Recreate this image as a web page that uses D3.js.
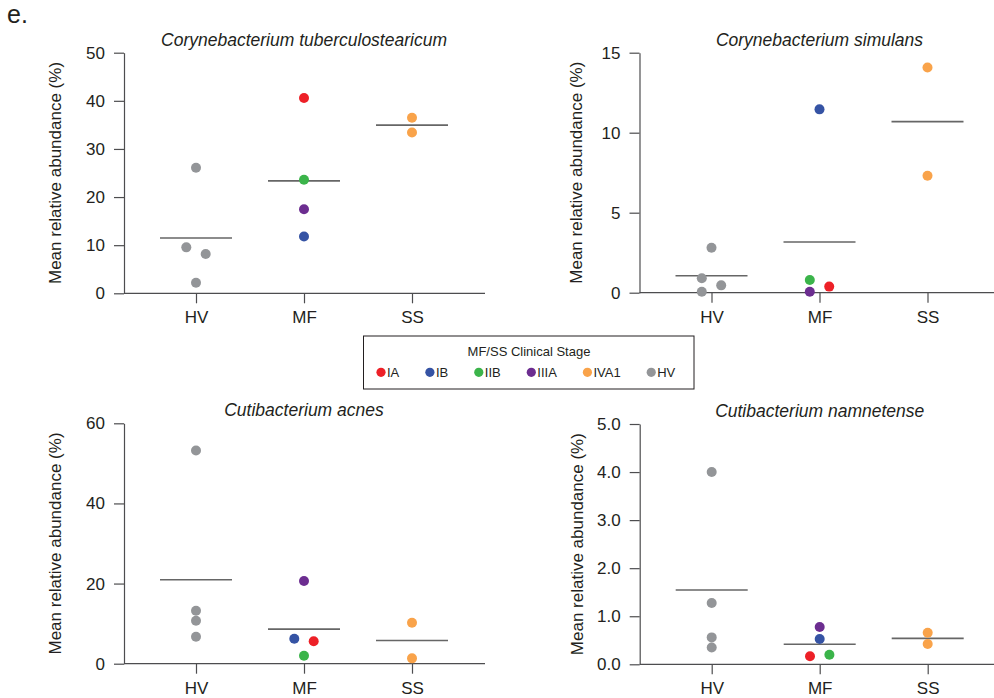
<!DOCTYPE html>
<html lang="en">
<head>
<meta charset="UTF-8">
<title>Mean relative abundance by clinical stage</title>
<style>
    body { margin: 0; background: #fff; }
    svg { display: block; font-family: "Liberation Sans", Arial, sans-serif; }
    .axis path, .axis line { stroke: #4d4d4f; stroke-width: 1.2px; }
    .axis text { fill: #231f20; font-size: 17px; }
    .title { font-size: 17.5px; font-style: italic; fill: #231f20; }
    .ylabel { font-size: 17px; fill: #231f20; }
    .mean { stroke: #666; stroke-width: 1.6px; }
</style>
</head>
<body>
<svg></svg>
<script src="https://d3js.org/d3.v7.min.js"></script>
<script>
// groups on the x axis and the legend stages
const categories = ["HV", "MF", "SS"];
const stageNames = ["IA", "IB", "IIB", "IIIA", "IVA1", "HV"];
const stageColors = ["#ed2027", "#3553a4", "#3bb44a", "#6c2d90", "#f9a34a", "#939598"];

// panel titles and y ranges
const titles = ["Corynebacterium tuberculostearicum", "Corynebacterium simulans",
                "Cutibacterium acnes", "Cutibacterium namnetense"];
const yMaxes = [50, 15, 60, 5];
const tickSteps = [10, 5, 20, 1];
const tickFormats = ["d", "d", "d", ".1f"];

// values (mean relative abundance, %)
const ctValues = [26.1, 9.55, 8.17, 2.2, 40.6, 23.6, 17.45, 11.8, 36.5, 33.4];
const ctStages = ["HV", "HV", "HV", "HV", "IA", "IIB", "IIIA", "IB", "IVA1", "IVA1"];
const ctSlots  = [0, -1, 1, 0, 0, 0, 0, 0, 0, 0];

const csValues = [2.81, 0.9, 0.46, 0.06, 11.46, 0.79, 0.38, 0.06, 14.08, 7.31];
const csStages = ["HV", "HV", "HV", "HV", "IB", "IIB", "IA", "IIIA", "IVA1", "IVA1"];
const csSlots  = [0, -1, 1, -1, 0, -1, 1, -1, 0, 0];

const caValues = [53.2, 13.2, 10.7, 6.74, 20.65, 6.24, 5.59, 2.0, 10.24, 1.33];
const caStages = ["HV", "HV", "HV", "HV", "IIIA", "IB", "IA", "IIB", "IVA1", "IVA1"];
const caSlots  = [0, 0, 0, 0, 0, -1, 1, 0, 0, 0];

const cnValues = [4.0, 1.275, 0.56, 0.35, 0.776, 0.526, 0.166, 0.2, 0.657, 0.422];
const cnStages = ["HV", "HV", "HV", "HV", "IIIA", "IB", "IA", "IIB", "IVA1", "IVA1"];
const cnSlots  = [0, 0, 0, 0, 0, 0, -1, 1, 0, 0];

const allValues = [ctValues, csValues, caValues, cnValues];
const allStages = [ctStages, csStages, caStages, cnStages];
const allSlots = [ctSlots, csSlots, caSlots, cnSlots];

const width = 994, height = 698;
const svg = d3.select("svg").attr("width", width).attr("height", height);

// where each panel sits
const frames = [
    { ax: 124,   bottom: 293.3, top: 52.7,  lab: 69, end: 485 },
    { ax: 639.5, bottom: 292.7, top: 52.7,  lab: 63, end: 1000 },
    { ax: 124,   bottom: 663.7, top: 423.3, lab: 69, end: 485 },
    { ax: 639.7, bottom: 664.3, top: 424,   lab: 63, end: 1000 }
];

const color = d3.scaleOrdinal().domain(stageNames).range(stageColors);
const groupOf = s => s === "HV" ? "HV" : (s === "IVA1" ? "SS" : "MF");
const dodge = 9.7, r = 5;

svg.append("text")
    .attr("x", 7).attr("y", 23)
    .style("font-size", "25px").style("fill", "#231f20")
    .text("e.");

frames.forEach((f, i) => {
    const g = svg.append("g");
    const x = d3.scalePoint().domain(categories).range([f.ax + 72, f.ax + 288]);
    const y = d3.scaleLinear().domain([0, yMaxes[i]]).range([f.bottom, f.top]);

    const pts = allValues[i].map((v, j) => ({
        value: v, stage: allStages[i][j], group: groupOf(allStages[i][j]), slot: allSlots[i][j]
    }));

    // x axis: long baseline plus category ticks
    g.append("line")
        .attr("x1", f.ax).attr("x2", f.end)
        .attr("y1", f.bottom).attr("y2", f.bottom)
        .attr("stroke", "#4d4d4f").attr("stroke-width", 1.2);
    const xa = g.append("g").attr("class", "axis")
        .attr("transform", `translate(0,${f.bottom})`)
        .call(d3.axisBottom(x).tickSize(10).tickSizeOuter(0).tickPadding(8));
    xa.select(".domain").remove();

    // y axis
    g.append("g").attr("class", "axis")
        .attr("transform", `translate(${f.ax},0)`)
        .call(d3.axisLeft(y)
            .tickValues(d3.range(0, yMaxes[i] + tickSteps[i] / 2, tickSteps[i]))
            .tickFormat(d3.format(tickFormats[i]))
            .tickSize(10).tickPadding(9).tickSizeOuter(0));

    g.append("text").attr("class", "title")
        .attr("x", x("MF")).attr("y", f.top - 7)
        .attr("text-anchor", "middle")
        .text(titles[i]);

    g.append("text").attr("class", "ylabel")
        .attr("transform", `translate(${f.ax - f.lab},${(f.top + f.bottom) / 2}) rotate(-90)`)
        .attr("text-anchor", "middle").attr("dy", "0.35em")
        .text("Mean relative abundance (%)");

    // group means
    const means = categories.map(c => ({
        group: c, mean: d3.mean(pts.filter(p => p.group === c), p => p.value)
    }));
    g.selectAll(".mean").data(means).enter().append("line")
        .attr("class", "mean")
        .attr("x1", d => x(d.group) - 36).attr("x2", d => x(d.group) + 36)
        .attr("y1", d => y(d.mean)).attr("y2", d => y(d.mean));

    g.selectAll(".dot").data(pts).enter().append("circle")
        .attr("class", "dot")
        .attr("cx", d => x(d.group) + d.slot * dodge)
        .attr("cy", d => y(d.value))
        .attr("r", r)
        .attr("fill", d => color(d.stage));
});

// legend
const legend = svg.append("g");
legend.append("rect")
    .attr("x", 363.5).attr("y", 336).attr("width", 330.5).attr("height", 53)
    .attr("fill", "none").attr("stroke", "#231f20").attr("stroke-width", 1);
legend.append("text")
    .attr("x", 529).attr("y", 356).attr("text-anchor", "middle")
    .style("font-size", "13px").style("fill", "#231f20")
    .text("MF/SS Clinical Stage");

let cx = 381;
stageNames.forEach(s => {
    legend.append("circle").attr("cx", cx).attr("cy", 372.3).attr("r", 4.6).attr("fill", color(s));
    const t = legend.append("text")
        .attr("x", cx + 6).attr("y", 377)
        .style("font-size", "13px").style("fill", "#231f20")
        .text(s);
    cx += 6 + t.node().getComputedTextLength() + 26 + 4.6;
});
</script>
</body>
</html>
